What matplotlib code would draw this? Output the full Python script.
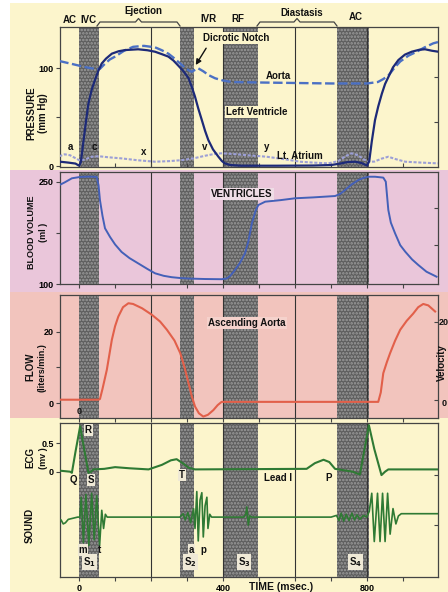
import matplotlib
matplotlib.use("Agg")
import matplotlib.pyplot as plt
from matplotlib.lines import Line2D
from matplotlib.patches import Rectangle

plt.rcParams['font.family'] = ['Liberation Sans', 'DejaVu Sans']
plt.rcParams['font.weight'] = 'bold'
plt.rcParams['hatch.linewidth'] = 1.2

W, H = 448, 592

# cardiac cycle phases (ms): isovolumic contraction, isovolumic relaxation,
# rapid filling, atrial contraction
phases = [(0, 55), (280, 320), (402, 496), (716, 805)]
grid_times = [200, 400, 600, 800]

# left heart pressures (ms, mmHg)
lv_t = [-55, -30, -10, 0, 5, 12, 20, 26, 35, 44, 53, 63, 75, 91, 110, 128, 164, 190,
        211, 230, 248, 262, 275, 290, 304, 313, 322, 331, 341, 350, 359, 372, 387, 397,
        405, 420, 450, 550, 650, 700, 725, 745, 767, 785, 800, 806, 813, 822, 831, 841,
        850, 859, 872, 887, 905, 924, 945, 961, 980, 998]
lv_p = [4.5, 3.5, 2.5, 0.3, 4, 25, 48, 64, 78, 88, 97, 105, 110, 115, 117.5, 118.7, 119.5,
        118.5, 117, 114.5, 112, 108, 103, 97, 90, 81, 71, 59, 47, 36, 26.6, 17, 9.5, 5,
        2.7, 1, 0.3, 0.3, 0.5, 1, 2.5, 4, 4.4, 3, 0.5, 5, 25, 47, 61, 74, 84, 91, 101,
        108.5, 114, 117, 119, 119.5, 118, 117]

ao_t = [-55, -20, 20, 50, 58, 70, 85, 100, 125, 150, 180, 211, 230, 248, 262, 275, 290,
        304, 313, 320, 331, 345, 360, 378, 400, 424, 500, 600, 700, 800, 830, 845, 860,
        875, 892, 915, 938, 960, 984, 998]
ao_p = [107.5, 104.5, 101, 99, 99.5, 104, 109, 112, 118, 122, 123, 121.5, 118.5, 115, 111,
        106.8, 102, 98, 96.5, 98, 100, 97, 93, 89.8, 87.5, 86, 85.5, 85, 84.5, 84.5, 86,
        89, 93, 100, 107, 113, 117, 121.5, 125.6, 127]

la_t = [-55, -40, -25, -10, 0, 15, 35, 55, 80, 118, 160, 211, 250, 285, 320, 350, 378,
        395, 420, 470, 521, 570, 614, 650, 692, 720, 740, 757, 775, 790, 804, 820, 840,
        859, 880, 906, 950, 997]
la_p = [10, 12, 11, 8, 6, 6.5, 9.5, 10, 9, 7.8, 6, 4.4, 5, 6, 8, 10.5, 12.5, 13, 12.5, 11,
        9.5, 7, 4.4, 3.5, 2.7, 5, 10, 13, 11, 7, 4.4, 4.5, 7.5, 9.5, 7, 4.4, 3.5, 2.7]

# ventricular volume (ms, ml)
vol_t = [-55, -40, -20, 3, 30, 49, 54, 58, 65, 72, 86, 100, 118, 140, 165, 190, 211, 235,
         257, 280, 304, 350, 396, 410, 420, 433, 447, 461, 470, 480, 490, 498, 517, 560,
         600, 650, 711, 725, 739, 757, 776, 790, 804, 822, 845, 852, 859, 866, 878, 892,
         906, 925, 942, 965, 993]
vol_ml = [245, 249, 255, 257, 257.5, 257, 245, 223, 200, 181.7, 169, 158, 147, 138, 130,
          122, 115.7, 112, 110, 108.8, 108, 107.3, 107, 108, 112, 120.5, 131, 145, 162,
          189, 207, 215.8, 220.7, 223, 225.7, 227, 229, 232, 237.8, 246, 252.5, 255.5,
          257.3, 257.3, 256, 250, 208.5, 190, 174, 157, 147.4, 136, 128, 118, 110.7]

# ascending aorta flow (ms, l/min)
flow_t = [-55, 54, 58, 65, 77, 91, 100, 109, 122, 137, 150, 175, 202, 225, 244, 265, 281,
          293, 304, 313, 322, 333, 345, 358, 373, 385, 396, 500, 700, 831, 838, 845, 855,
          864, 878, 892, 910, 928, 942, 956, 970, 989]
flow_l = [1, 1, 1.2, 4, 9.3, 17.7, 21.5, 24.2, 26.8, 27.9, 27.7, 26.5, 24.7, 22.8, 20.5,
          17.5, 14, 10, 5.6, 2, -0.9, -2.8, -3.7, -3.2, -1.9, -0.5, 0.4, 0.4, 0.4, 0.4,
          3, 8.4, 11.5, 14, 17.5, 20.5, 23, 25, 26.8, 27.7, 27.3, 25.6]

# lead I ECG (ms, mV)
ecg_t = [-57, -25, -20, -10, 3, 14, 26, 33, 40, 70, 100, 140, 193, 230, 255, 271, 290, 304,
         322, 632, 655, 679, 695, 711, 760, 780, 793, 805, 820, 840, 850, 859, 1000]
ecg_mv = [0.02, 0, -0.02, 0.35, 0.8, 0.4, -0.02, 0, 0.04, 0.05, 0.08, 0.06, 0.04, 0.12,
          0.2, 0.22, 0.14, 0.07, 0.04, 0.05, 0.15, 0.21, 0.17, 0.05, 0.0, -0.05, 0.4,
          0.82, 0.4, -0.06, 0.0, 0.04, 0.04]

# phonocardiogram vertices (ms, relative deflection)
snd_t = [-57, -50, -44, -38, -30, -4, 2, 6, 12, 19, 27, 35, 42, 49, 57, 63, 68, 73, 78,
         280, 289, 295, 302, 310, 318, 322, 327, 331, 336, 341, 345, 350, 355, 358, 363,
         368, 458, 463, 466, 470, 474, 480, 700, 715, 722, 728, 735, 742, 750, 758, 765,
         772, 780, 790, 799, 806, 813, 820, 829, 836, 843, 850, 857, 864, 872, 880, 887,
         895, 1000]
snd_v = [-0.05, -0.05, -0.12, -0.1, -0.04, 0.0, 0.0, 0.35, -0.45, 0.4, -0.5, 0.42, -0.4,
         0.38, -0.5, 0.12, -0.2, 0.05, 0.0, 0.0, 0.06, -0.05, 0.08, -0.1, 0.15, -0.2, 0.45,
         -0.42, 0.3, 0.43, -0.35, 0.2, 0.35, -0.2, 0.05, 0.0, 0.0, 0.05, 0.18, -0.14, 0.02,
         0.0, 0.0, 0.03, -0.06, 0.07, -0.07, 0.05, -0.06, 0.07, -0.05, 0.04, -0.04, 0.03,
         0.0, 0.1, 0.42, -0.43, 0.42, -0.43, 0.42, -0.43, 0.42, -0.3, 0.15, -0.12, 0.02,
         0.06, 0.06]
SOUND_BASE = -0.8

YELLOW = '#fcf5cc'
PINK = '#eac6da'
SALMON = '#f2c4bd'
SHADE = '#5e5e5e'
INK = '#111111'


def fx(px):
    return px / W


def fy(py):
    return 1 - py / H


def make_axes(top, bottom):
    ax = fig.add_axes([fx(60), fy(bottom), fx(438) - fx(60), fy(top) - fy(bottom)])
    ax.set_facecolor('none')
    ax.set_xlim(-53, 997)
    for s in ax.spines.values():
        s.set_color('#444444')
        s.set_linewidth(0.9)
    for a, b in phases:
        ax.axvspan(a, b, facecolor=SHADE, edgecolor='#9c9c9c', hatch='.....',
                   linewidth=0, zorder=1)
    for t in grid_times:
        ax.axvline(t, color='#333333', lw=0.8, zorder=1.5)
    ax.set_xticks(range(0, 1000, 100))
    ax.set_xticklabels([])
    ax.tick_params(axis='both', labelsize=6.5, length=3, width=0.8, color='#444444',
                   pad=1.5)
    return ax


def right_ticks(ax, vals):
    ax2 = ax.twinx()
    ax2.set_ylim(ax.get_ylim())
    ax2.set_yticks(vals)
    ax2.set_yticklabels([])
    ax2.tick_params(axis='y', direction='in', length=3, width=0.8, color='#444444')
    for s in ax2.spines.values():
        s.set_visible(False)


def brace(x0, x1, ytop, ybot, ypeak):
    xm = (x0 + x1) / 2
    xs = [x0, x0 + 3, xm - 3, xm, xm + 3, x1 - 3, x1]
    ys = [ybot, ytop, ytop, ypeak, ytop, ytop, ybot]
    fig.add_artist(Line2D([fx(x) for x in xs], [fy(y) for y in ys],
                          transform=fig.transFigure, color='#444444', lw=0.9))


def ftext(px, py, s, **kw):
    kw.setdefault('fontsize', 7)
    kw.setdefault('fontweight', 'bold')
    fig.text(fx(px), fy(py), s, ha='center', va='center', color=INK, **kw)


fig = plt.figure(figsize=(W / 100, H / 100), dpi=100)
fig.patch.set_facecolor('white')

# coloured bands behind each panel
for y0, y1, c in [(3, 170, YELLOW), (170, 292, PINK), (292, 418, SALMON), (418, 592, YELLOW)]:
    fig.add_artist(Rectangle((fx(10), fy(y1)), 1 - fx(10), fy(y0) - fy(y1),
                             transform=fig.transFigure, facecolor=c, edgecolor='none',
                             zorder=0))

# --- pressure panel ---
ax1 = make_axes(27.3, 166.5)
ax1.set_ylim(-0.5, 142)
ax1.set_yticks([0, 50, 100])
ax1.set_yticklabels(['0', '', '100'])
ax1.tick_params(axis='x', direction='in')
ax1.plot(ao_t, ao_p, color='#4b70c4', lw=1.7, ls=(0, (4, 1.5)), zorder=3)
ax1.plot(la_t, la_p, color='#9c9fd6', lw=1.5, ls=(0, (1.5, 0.8)), zorder=3)
ax1.plot(lv_t, lv_p, color='#1d2a78', lw=1.6, zorder=4)
right_ticks(ax1, [45.5, 91])

for t, p, s in [(-25, 19.8, 'a'), (42, 19.5, 'c'), (179, 14.3, 'x'), (350, 19.5, 'v'),
                (521, 19.5, 'y')]:
    ax1.text(t, p, s, fontsize=7, fontweight='bold', ha='center', va='center', color=INK,
             zorder=5)
ax1.text(614, 10.2, 'Lt. Atrium', fontsize=7, fontweight='bold', ha='center', va='center',
         color=INK, zorder=5)
ax1.text(553, 92, 'Aorta', fontsize=7, fontweight='bold', ha='center', va='center',
         color=INK, zorder=5)
ax1.text(494, 55.6, 'Left Ventricle', fontsize=7, fontweight='bold', ha='center',
         va='center', color=INK, zorder=5,
         bbox=dict(boxstyle='square,pad=0.1', facecolor=YELLOW, edgecolor='none'))
ax1.text(436, 130.7, 'Dicrotic Notch', fontsize=7, fontweight='bold', ha='center',
         va='center', color=INK, zorder=5,
         bbox=dict(boxstyle='square,pad=0.1', facecolor=YELLOW, edgecolor='none'))
ax1.annotate('', xy=(320, 101), xytext=(357, 123), zorder=5,
             arrowprops=dict(arrowstyle='-|>', color=INK, lw=1.0, mutation_scale=8))

# --- blood volume panel ---
ax2 = make_axes(172.3, 284)
ax2.set_ylim(100, 263.8)
ax2.set_yticks([100, 175, 250])
ax2.set_yticklabels(['100', '', '250'])
ax2.plot(vol_t, vol_ml, color='#4460b8', lw=1.4, zorder=3)
right_ticks(ax2, [157, 211])
ax2.text(452, 231.5, 'VENTRICLES', fontsize=7, fontweight='bold', ha='center',
         va='center', color=INK, zorder=5,
         bbox=dict(boxstyle='square,pad=0.1', facecolor='#efdde6', edgecolor='none'))

# --- aortic flow panel ---
ax3 = make_axes(295, 418)
ax3.set_ylim(-4.1, 30.2)
ax3.set_yticks([0, 10, 20])
ax3.set_yticklabels(['0', '', '20'])
ax3.plot(flow_t, flow_l, color='#e2604a', lw=1.5, zorder=3)
right_ticks(ax3, [0.9, 22.8])
ax3.text(466, 22.3, 'Ascending Aorta', fontsize=7, fontweight='bold', ha='center',
         va='center', color=INK, zorder=5,
         bbox=dict(boxstyle='square,pad=0.1', facecolor='#f5d2cc', edgecolor='none'))
ax3.text(0, -2.3, '0', fontsize=6.5, fontweight='bold', ha='center', va='center',
         color=INK, zorder=5)

# --- ECG and heart sound panel ---
ax4 = make_axes(423.3, 577.3)
ax4.set_ylim(-1.86, 0.852)
ax4.set_yticks([0, 0.5])
ax4.set_yticklabels(['0', '0.5'])
ax4.set_xticklabels(['0' if t == 0 else '400' if t == 400 else '800' if t == 800 else ''
                     for t in range(0, 1000, 100)])
ax4.plot(ecg_t, ecg_mv, color='#2f7a34', lw=1.5, zorder=3)
ax4.plot(snd_t, [SOUND_BASE + v for v in snd_v], color='#2f7a34', lw=1.2, zorder=3)
right_ticks(ax4, [-0.06, -0.94])

lbl_box = dict(boxstyle='square,pad=0.1', facecolor='#efe9d6', edgecolor='none')
for t, v, s, boxed in [(25, 0.73, 'R', True), (-17, -0.15, 'Q', False),
                       (33, -0.15, 'S', True), (285, -0.06, 'T', True),
                       (553, -0.11, 'Lead I', False), (692, -0.11, 'P', False),
                       (11, -1.38, 'm', True), (56, -1.38, 't', False),
                       (313, -1.38, 'a', True), (344, -1.38, 'p', False),
                       (28, -1.59, r'S$_1$', True), (310, -1.59, r'S$_2$', True),
                       (458, -1.59, r'S$_3$', True), (767, -1.59, r'S$_4$', True)]:
    ax4.text(t, v, s, fontsize=7, fontweight='bold', ha='center', va='center', color=INK,
             zorder=5, bbox=lbl_box if boxed else None)

# phase labels across the top
ftext(70, 20, 'AC')
ftext(88, 20, 'IVC')
ftext(143, 11.5, 'Ejection')
ftext(208, 18.5, 'IVR')
ftext(238, 18.5, 'RF')
ftext(302, 12.5, 'Diastasis')
ftext(356, 17, 'AC')
brace(97, 180, 22, 26, 18.5)
brace(257, 337, 22, 26, 18.5)

# axis titles
ftext(31.5, 113, 'PRESSURE', rotation=90)
ftext(43, 113, '(mm Hg)', rotation=90)
ftext(32, 232, 'BLOOD VOLUME', rotation=90, fontsize=6.5)
ftext(43, 232, '(ml )', rotation=90, fontsize=6.5)
ftext(30, 367, 'FLOW', rotation=90)
ftext(42, 368, '(liters/min.)', rotation=90, fontsize=6.5)
ftext(441.5, 363, 'Velocity', rotation=90)
ftext(444, 322, '20', fontsize=6.5)
ftext(444, 403, '0', fontsize=6.5)
ftext(30, 458, 'ECG', rotation=90)
ftext(43, 458, '(mv )', rotation=90, fontsize=6.5)
ftext(30, 525, 'SOUND', rotation=90)
ftext(281, 587, 'TIME (msec.)', fontsize=7.5)

fig.savefig('out.png', dpi=100)
